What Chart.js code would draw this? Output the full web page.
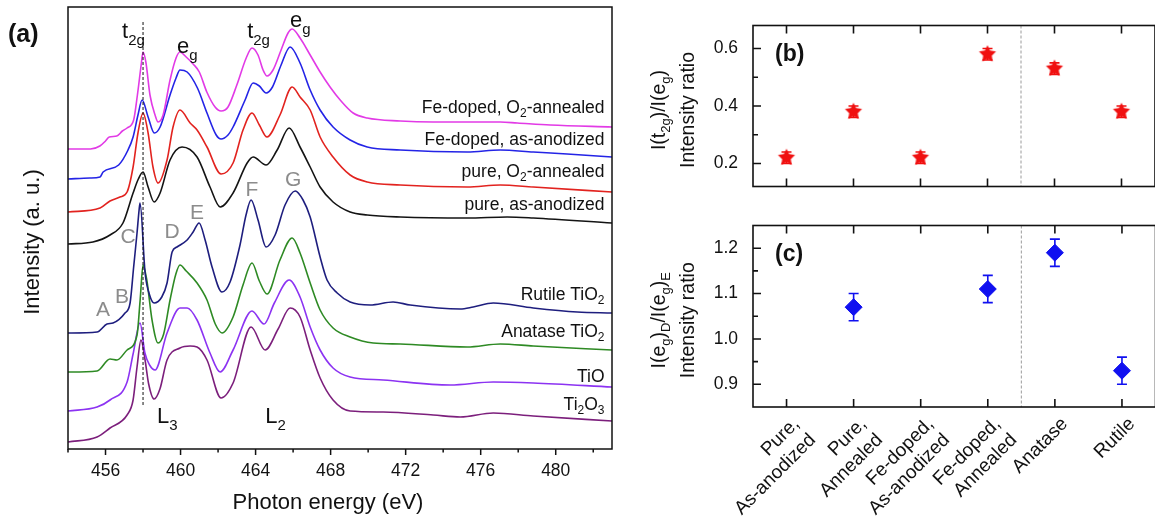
<!DOCTYPE html>
<html>
<head>
<meta charset="utf-8">
<script src="https://cdn.jsdelivr.net/npm/chart.js@4.4.1/dist/chart.umd.min.js"></script>
<style>
  html, body { margin: 0; padding: 0; background: #fff; overflow: hidden; }
  body { width: 1155px; height: 518px; position: relative; }
  canvas { position: absolute; }
</style>
</head>
<body>
<canvas id="spec" width="640" height="518" style="left:0;top:0"></canvas>
<canvas id="ratioB" width="525" height="212" style="left:640px;top:0"></canvas>
<canvas id="ratioC" width="525" height="318" style="left:640px;top:200px"></canvas>
<script>
const FONT = '"Liberation Sans", Arial, sans-serif';

// --- panel (a): Ti L-edge spectra, [photon energy (eV), intensity (a.u., offset)] ---
const feAnnealed = [[454.0,300],[455.2,300],[455.7,303],[456.0,308],[456.2,312],[456.6,313],[456.9,318],[457.15,321],[457.5,329],[457.7,354],[457.9,384],[458.0,397],[458.15,387],[458.37,354],[458.64,334],[458.8,327],[459.07,334],[459.44,369],[459.76,391],[459.97,397],[460.3,392],[460.67,385],[461.0,377],[461.4,357],[461.84,342],[462.16,338],[462.53,342],[463.0,364],[463.5,391],[463.81,401],[464.13,394],[464.4,379],[464.61,373],[464.93,379],[465.36,399],[465.73,416],[465.95,420],[466.37,411],[466.91,394],[467.44,377],[467.97,362],[468.51,349],[469.2,336],[469.95,331],[471.71,328],[473.47,327],[477.04,327],[477.95,326],[479.71,324],[483.0,322]];
const feAnodized = [[454.0,270],[455.17,271],[455.71,272],[455.87,277],[456.7,284],[457.2,299],[457.47,312],[457.73,334],[457.95,349],[458.27,332],[458.6,316],[458.91,322],[459.44,354],[459.76,371],[459.97,379],[460.35,377],[460.9,361],[461.41,336],[461.9,314],[462.16,310],[462.53,314],[462.8,322],[463.44,349],[463.87,366],[464.2,363],[464.56,356],[464.9,362],[465.36,384],[465.84,402],[466.37,386],[466.91,359],[467.44,339],[468.13,322],[469.04,309],[469.95,302],[471.71,299],[475.28,297],[477.04,299],[478.8,297],[480.61,295],[483.0,292]];
const pureAnnealed = [[454.0,237],[455.71,241],[456.24,248],[456.77,252],[457.15,257],[457.47,282],[457.73,316],[458.0,336],[458.27,316],[458.53,282],[458.8,266],[459.28,289],[459.6,322],[459.97,339],[460.51,326],[460.88,319],[461.41,302],[462.16,275],[462.8,286],[463.33,319],[463.81,336],[464.2,324],[464.61,312],[465.3,334],[465.95,362],[466.37,352],[466.91,339],[467.44,312],[468.13,292],[469.04,274],[469.95,267],[471.71,264],[475.28,262],[477.04,264],[478.8,262],[483.0,257]];
const pureAnodized = [[454.0,205],[455.33,207],[456.24,214],[456.93,226],[457.47,256],[457.75,270],[458.0,277],[458.27,262],[458.59,247],[458.91,256],[459.44,289],[460.08,302],[460.88,292],[461.57,262],[462.11,242],[462.8,256],[463.55,286],[463.87,292],[464.56,284],[465.15,299],[465.79,321],[466.37,302],[466.91,282],[467.44,262],[468.13,247],[469.04,237],[469.95,234],[471.71,232],[475.28,231],[477.41,232],[478.8,231],[483.0,226]];
const rutile = [[454.0,116],[455.55,117],[456.08,125],[456.4,126],[457.04,136],[457.31,146],[457.5,182],[457.68,216],[457.79,239],[457.84,246],[458.11,176],[458.35,154],[458.59,146],[459.0,152],[459.28,166],[459.55,197],[459.81,202],[460.35,209],[460.67,217],[460.99,226],[461.31,209],[461.68,182],[462.21,157],[462.64,167],[463.17,204],[463.49,234],[463.76,249],[464.13,229],[464.56,202],[465.04,214],[465.57,244],[466.11,258],[466.53,249],[466.91,232],[467.44,192],[467.81,169],[468.35,156],[469.04,147],[470.11,144],[471.33,147],[472.24,144],[474.91,140],[475.6,142],[476.67,146],[478.8,141],[481.15,137],[483.0,136]];
const anatase = [[454.0,77],[455.55,78],[456.24,90],[456.61,89],[457.15,99],[457.68,114],[457.85,150],[458.0,184],[458.2,169],[458.48,129],[458.8,106],[459.1,115],[459.44,149],[459.75,175],[459.97,184],[460.3,178],[460.88,166],[461.41,149],[461.85,125],[462.21,116],[462.8,132],[463.33,164],[463.81,186],[464.2,168],[464.61,155],[465.3,189],[465.95,211],[466.37,196],[466.91,166],[467.44,139],[468.13,121],[469.04,112],[470.27,106],[471.71,105],[475.28,102],[477.04,105],[478.8,103],[483.0,99]];
const tiO = [[454.0,38],[455.55,42],[456.24,49],[457.15,67],[457.47,95],[457.84,126],[458.1,96],[458.35,84],[458.64,79],[459.28,116],[459.97,141],[460.35,141],[460.88,129],[461.57,96],[462.11,77],[462.8,99],[463.81,138],[464.45,125],[465.0,146],[465.79,169],[466.37,152],[466.91,122],[467.44,99],[468.13,81],[469.04,72],[470.8,69],[474.37,64],[476.67,67],[478.8,66],[483.0,62]];
const ti2o3 = [[454.0,7],[455.55,12],[456.24,21],[457.15,34],[457.47,49],[457.68,82],[457.89,109],[458.1,90],[458.3,65],[458.59,50],[458.9,60],[459.28,89],[459.97,101],[460.51,103],[460.88,102],[461.41,89],[462.16,51],[462.8,66],[463.76,122],[464.51,99],[465.2,120],[465.84,141],[466.37,132],[466.91,99],[467.44,71],[468.13,49],[469.04,38],[470.8,37],[473.47,34],[474.91,32],[476.67,36],[478.8,33],[483.0,28]];

const spectrumNames = ['Fe-doped, O_{2}-annealed', 'Fe-doped, as-anodized', 'pure, O_{2}-annealed', 'pure, as-anodized',
                       'Rutile TiO_{2}', 'Anatase TiO_{2}', 'TiO', 'Ti_{2}O_{3}'];
const spectra = [feAnnealed, feAnodized, pureAnnealed, pureAnodized, rutile, anatase, tiO, ti2o3];
const spectrumColors = ['#e23ae6', '#2424e6', '#e2231f', '#141414', '#1e1e7e', '#2e8a24', '#8c33f2', '#7c1f7c'];
const energyTicks = [456, 460, 464, 468, 472, 476, 480];
const energyMinor = [454, 458, 462, 466, 470, 474, 478, 482];

// --- panels (b) and (c): intensity ratios ---
const samples = [['Pure,', 'As-anodized'], ['Pure,', 'Annealed'], ['Fe-doped,', 'As-anodized'],
                 ['Fe-doped,', 'Annealed'], 'Anatase', 'Rutile'];
const t2gRatio = [0.22, 0.38, 0.22, 0.58, 0.53, 0.38];
const t2gErr = [0.02, 0.02, 0.02, 0.02, 0.02, 0.02];
const t2gTicks = [0.2, 0.4, 0.6];
const t2gMinor = [0.3, 0.5];
const egRatio = [null, 1.07, null, 1.11, 1.19, 0.93];
const egErr = [0, 0.03, 0, 0.03, 0.03, 0.03];
const egTicks = [0.9, 1.0, 1.1, 1.2];
const egMinor = [0.95, 1.05, 1.15];

// text with _{sub} parts
function richParts(s) {
  return s.split(/_\{([^}]*)\}/).map((t, i) => [t, i % 2]).filter(p => p[0]);
}
function drawRich(ctx, s, x, y, size, align, weight) {
  const parts = richParts(s);
  const fontOf = lv => `${weight || 'normal'} ${lv ? Math.round(size * 0.68) : size}px ${FONT}`;
  let w = 0;
  parts.forEach(([t, lv]) => { ctx.font = fontOf(lv); w += ctx.measureText(t).width; });
  let cx = align === 'right' ? x - w : align === 'center' ? x - w / 2 : x;
  ctx.textAlign = 'left';
  parts.forEach(([t, lv]) => {
    ctx.font = fontOf(lv);
    ctx.fillText(t, cx, y + (lv ? size * 0.32 : 0));
    cx += ctx.measureText(t).width;
  });
}

function starImage(r, color) {
  const c = document.createElement('canvas');
  c.width = c.height = 2 * r + 2;
  const g = c.getContext('2d');
  g.beginPath();
  for (let i = 0; i < 10; i++) {
    const a = -Math.PI / 2 + i * Math.PI / 5;
    const rr = i % 2 ? r * 0.5 : r;
    g.lineTo(r + 1 + rr * Math.cos(a), r + 1 + rr * Math.sin(a));
  }
  g.closePath();
  g.fillStyle = color;
  g.fill();
  return c;
}

const specDecor = {
  id: 'specDecor',
  afterDraw(chart) {
    const { ctx, chartArea: a, scales: { x, y } } = chart;
    ctx.save();
    ctx.strokeStyle = '#111';
    ctx.lineWidth = 1.5;
    ctx.strokeRect(a.left, a.top, a.right - a.left, a.bottom - a.top);
    ctx.beginPath();
    energyTicks.forEach(v => { const px = x.getPixelForValue(v); ctx.moveTo(px, a.bottom); ctx.lineTo(px, a.bottom + 6); });
    energyMinor.forEach(v => { const px = x.getPixelForValue(v); ctx.moveTo(px, a.bottom); ctx.lineTo(px, a.bottom + 3.5); });
    ctx.stroke();

    // dotted guide at the L3 t2g peak
    ctx.lineWidth = 1;
    ctx.setLineDash([3, 2]);
    ctx.beginPath();
    ctx.moveTo(x.getPixelForValue(458.0), y.getPixelForValue(427));
    ctx.lineTo(x.getPixelForValue(458.0), y.getPixelForValue(42));
    ctx.stroke();
    ctx.setLineDash([]);

    ctx.fillStyle = '#111';
    ctx.textBaseline = 'alphabetic';
    drawRich(ctx, '(a)', 8, 42, 25, 'left', 'bold');
    const peakNotes = [['t_{2g}', 456.88, 411], ['e_{g}', 459.81, 396], ['t_{2g}', 463.55, 411], ['e_{g}', 465.84, 422],
                       ['L_{3}', 458.75, 26], ['L_{2}', 464.51, 26]];
    peakNotes.forEach(([t, e, i]) => drawRich(ctx, t, x.getPixelForValue(e), y.getPixelForValue(i), 22, 'left'));

    ctx.fillStyle = '#8c8c8c';
    ctx.textBaseline = 'middle';
    const featureNotes = [['A', 455.87, 139], ['B', 456.88, 152], ['C', 457.2, 212], ['D', 459.55, 217],
                          ['E', 460.88, 236], ['F', 463.81, 259], ['G', 466.0, 269]];
    featureNotes.forEach(([t, e, i]) => drawRich(ctx, t, x.getPixelForValue(e), y.getPixelForValue(i), 21, 'center'));

    ctx.fillStyle = '#111';
    const labelLevels = [341, 309, 277, 244, 154, 117, 72, 44];
    spectrumNames.forEach((n, k) => drawRich(ctx, n, x.getPixelForValue(482.6), y.getPixelForValue(labelLevels[k]), 17.5, 'right'));

    ctx.textBaseline = 'middle';
    ctx.translate(33, 242);
    ctx.rotate(-Math.PI / 2);
    drawRich(ctx, 'Intensity (a. u.)', 0, 0, 22, 'center');
    ctx.restore();

    ctx.save();
    ctx.fillStyle = '#111';
    ctx.textBaseline = 'middle';
    drawRich(ctx, 'Photon energy (eV)', 328, 503, 22, 'center');
    ctx.restore();
  }
};

new Chart(document.getElementById('spec'), {
  type: 'line',
  data: {
    datasets: spectra.map((s, k) => ({
      data: s.map(([e, i]) => ({ x: e, y: i })),
      borderColor: spectrumColors[k],
      borderWidth: 1.6,
      pointRadius: 0,
      cubicInterpolationMode: 'monotone',
      fill: false
    }))
  },
  options: {
    responsive: false, animation: false, events: [],
    layout: { padding: { left: 68, top: 7, right: 28, bottom: 0 } },
    plugins: { legend: { display: false }, tooltip: { enabled: false } },
    scales: {
      x: {
        type: 'linear', min: 454, max: 483,
        grid: { display: false, drawTicks: false }, border: { display: false },
        afterBuildTicks: s => { s.ticks = energyTicks.map(v => ({ value: v })); },
        afterFit: s => { s.height = 69; },
        ticks: { padding: 12, color: '#111', font: { size: 17.5, family: FONT }, maxRotation: 0, autoSkip: false }
      },
      y: { type: 'linear', min: 0, max: 442, display: false }
    }
  },
  plugins: [specDecor]
});

// frame, inside ticks, separator and error bars for the ratio panels
function ratioDecor(values, errs, color, major, minor, tag, title) {
  return {
    id: 'ratioDecor' + tag,
    beforeDatasetsDraw(chart) {
      const { ctx, scales: { x, y } } = chart;
      ctx.save();
      ctx.strokeStyle = color;
      ctx.lineWidth = 1.6;
      ctx.beginPath();
      values.forEach((v, i) => {
        if (v == null) return;
        const px = x.getPixelForValue(i);
        const top = y.getPixelForValue(v + errs[i]);
        const bot = y.getPixelForValue(v - errs[i]);
        ctx.moveTo(px, top); ctx.lineTo(px, bot);
        ctx.moveTo(px - 5, top); ctx.lineTo(px + 5, top);
        ctx.moveTo(px - 5, bot); ctx.lineTo(px + 5, bot);
      });
      ctx.stroke();
      ctx.restore();
    },
    afterDraw(chart) {
      const { ctx, chartArea: a, scales: { x, y } } = chart;
      ctx.save();
      const sep = (x.getPixelForValue(3) + x.getPixelForValue(4)) / 2;
      ctx.strokeStyle = '#9a9a9a';
      ctx.lineWidth = 1;
      ctx.setLineDash([3, 2]);
      ctx.beginPath(); ctx.moveTo(sep, a.top); ctx.lineTo(sep, a.bottom); ctx.stroke();
      ctx.setLineDash([]);

      ctx.strokeStyle = '#111';
      ctx.lineWidth = 1.6;
      ctx.strokeRect(a.left, a.top, a.right - a.left, a.bottom - a.top);
      ctx.beginPath();
      samples.forEach((s, i) => {
        const px = x.getPixelForValue(i);
        ctx.moveTo(px, a.top); ctx.lineTo(px, a.top + 8);
        ctx.moveTo(px, a.bottom); ctx.lineTo(px, a.bottom - 8);
      });
      major.forEach(v => { const py = y.getPixelForValue(v); ctx.moveTo(a.left, py); ctx.lineTo(a.left + 8, py); });
      minor.forEach(v => { const py = y.getPixelForValue(v); ctx.moveTo(a.left, py); ctx.lineTo(a.left + 5, py); });
      ctx.stroke();

      ctx.fillStyle = '#111';
      ctx.textBaseline = 'alphabetic';
      drawRich(ctx, '(' + tag + ')', a.left + 22, a.top + 35, 23, 'left', 'bold');

      const midY = (a.top + a.bottom) / 2 + 4;
      ctx.textBaseline = 'middle';
      ctx.translate(20, midY);
      ctx.rotate(-Math.PI / 2);
      drawRich(ctx, title, 0, 0, 19.5, 'center');
      ctx.restore();
      ctx.save();
      ctx.fillStyle = '#111';
      ctx.textBaseline = 'middle';
      ctx.translate(49, midY);
      ctx.rotate(-Math.PI / 2);
      drawRich(ctx, 'Intensity ratio', 0, 0, 19.5, 'center');
      ctx.restore();
    }
  };
}

function yAxis(min, max, ticks, width) {
  return {
    min, max,
    grid: { display: false, drawTicks: false }, border: { display: false },
    afterBuildTicks: s => { s.ticks = ticks.map(v => ({ value: v })); },
    afterFit: s => { s.width = width; },
    ticks: { padding: 15, color: '#111', font: { size: 17.5, family: FONT }, callback: v => Number(v).toFixed(1) }
  };
}

new Chart(document.getElementById('ratioB'), {
  type: 'line',
  data: {
    labels: samples,
    datasets: [{ data: t2gRatio, showLine: false, pointStyle: starImage(9, '#f01010'), pointRadius: 9 }]
  },
  options: {
    responsive: false, animation: false, events: [],
    layout: { padding: { left: 0, top: 9, right: 7, bottom: 4 } },
    plugins: { legend: { display: false }, tooltip: { enabled: false } },
    scales: {
      x: { type: 'category', offset: true, display: false },
      y: yAxis(0.12, 0.68, t2gTicks, 113)
    }
  },
  plugins: [ratioDecor(t2gRatio, t2gErr, '#f01010', t2gTicks, t2gMinor, 'b', 'I(t_{2g})/I(e_{g})')]
});

new Chart(document.getElementById('ratioC'), {
  type: 'line',
  data: {
    labels: samples,
    datasets: [{ data: egRatio, showLine: false, pointStyle: 'rectRot', pointRadius: 8.5,
                 backgroundColor: '#1010f0', borderColor: '#1010f0', borderWidth: 1 }]
  },
  options: {
    responsive: false, animation: false, events: [],
    layout: { padding: { left: 0, top: 8, right: 7, bottom: 0 } },
    plugins: { legend: { display: false }, tooltip: { enabled: false } },
    scales: {
      x: {
        type: 'category', offset: true,
        grid: { display: false, drawTicks: false }, border: { display: false },
        afterFit: s => { s.height = 111; },
        ticks: { padding: 6, labelOffset: 10, color: '#111', font: { size: 19, family: FONT },
                 minRotation: 45, maxRotation: 45, autoSkip: false }
      },
      y: yAxis(0.85, 1.25, egTicks, 113)
    }
  },
  plugins: [ratioDecor(egRatio, egErr, '#1010f0', egTicks, egMinor, 'c', 'I(e_{g})_{D}/I(e_{g})_{E}')]
});
</script>
</body>
</html>
